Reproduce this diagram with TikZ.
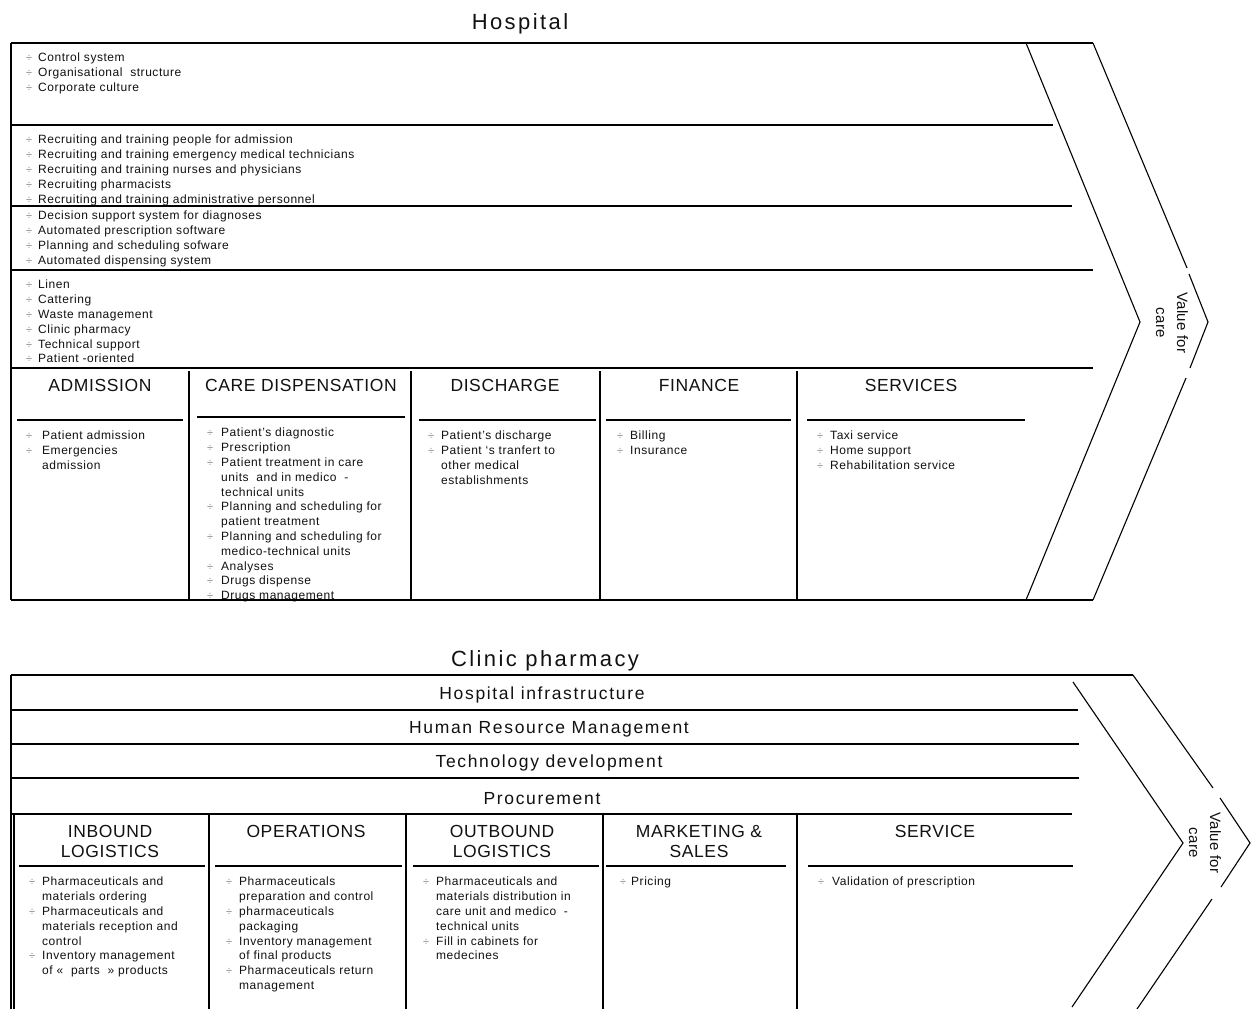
\documentclass[tikz,border=0pt]{standalone}
\usepackage{fontspec}
\setmainfont{Liberation Sans}
\newfontfamily\bodyf[LetterSpace=4.5]{Liberation Sans}
\newfontfamily\headf[LetterSpace=3.5]{Liberation Sans}
\newfontfamily\barf[LetterSpace=9.5]{Liberation Sans}
\newfontfamily\titlef[LetterSpace=11]{Liberation Sans}
\newfontfamily\valf[LetterSpace=2]{Liberation Sans}
\definecolor{txt}{HTML}{111111}
\definecolor{bulc}{HTML}{808080}
\newcommand\blt[1]{\makebox[#1pt][l]{\textcolor{bulc}{\fontsize{11}{11}\selectfont ÷}}}
\newcommand\cnt[1]{\hspace*{#1pt}}
\tikzset{
  lst/.style={anchor=north west, inner sep=0pt, align=left, text=txt,
              font=\bodyf\fontsize{12}{14.8}\selectfont},
  hdr/.style={anchor=base, inner sep=0pt, text=txt, font=\headf\fontsize{17.5}{20}\selectfont},
  hdrtwo/.style={anchor=center, inner sep=0pt, align=center, text=txt, font=\headf\fontsize{17.5}{20}\selectfont},
  barlbl/.style={anchor=base, inner sep=0pt, text=txt, font=\barf\fontsize{17.5}{20}\selectfont},
  ttl/.style={anchor=base, inner sep=0pt, text=txt, font=\titlef\fontsize{22}{26}\selectfont},
  vlbl/.style={rotate=-90, align=center, inner sep=0pt, text=txt, font=\valf\fontsize{15}{21}\selectfont},
  rule/.style={line width=1.1pt, draw=black},
}
\begin{document}
\begin{tikzpicture}[x=1pt,y=-1pt]
\useasboundingbox[fill=white] (0,0) rectangle (1254,1009);

% ================= HOSPITAL =================
\node[ttl] (htitle) at (520,29) {Hospital};

\node[lst] (infra) at (26,53) {\blt{12}Control system\\ \blt{12}Organisational~ structure\\ \blt{12}Corporate culture};
\node[lst] (hrm) at (26,135) {\blt{12}Recruiting and training people for admission\\
  \blt{12}Recruiting and training emergency medical technicians\\
  \blt{12}Recruiting and training nurses and physicians\\
  \blt{12}Recruiting pharmacists\\
  \blt{12}Recruiting and training administrative personnel};
\node[lst] (tech) at (26,211) {\blt{12}Decision support system for diagnoses\\
  \blt{12}Automated prescription software\\
  \blt{12}Planning and scheduling sofware\\
  \blt{12}Automated dispensing system};
\node[lst] (proc) at (26,280) {\blt{12}Linen\\ \blt{12}Cattering\\ \blt{12}Waste management\\
  \blt{12}Clinic pharmacy\\ \blt{12}Technical support\\ \blt{12}Patient -oriented};

\node[hdr] (hadm) at (100,391) {ADMISSION};
\node[hdr] (hcare) at (301,391) {CARE DISPENSATION};
\node[hdr] (hdis) at (505,391) {DISCHARGE};
\node[hdr] (hfin) at (699,391) {FINANCE};
\node[hdr] (hsrv) at (911,391) {SERVICES};

\node[lst] (ladm) at (26,431) {\blt{16}Patient admission\\ \blt{16}Emergencies\\ \cnt{16}admission};
\node[lst] (lcare) at (207,428) {\blt{14}Patient’s diagnostic\\ \blt{14}Prescription\\
  \blt{14}Patient treatment in care\\ \cnt{14}units~ and in medico~ -\\ \cnt{14}technical units\\
  \blt{14}Planning and scheduling for\\ \cnt{14}patient treatment\\
  \blt{14}Planning and scheduling for\\ \cnt{14}medico-technical units\\
  \blt{14}Analyses\\ \blt{14}Drugs dispense\\ \blt{14}Drugs management};
\node[lst] (ldis) at (428,431) {\blt{13}Patient’s discharge\\ \blt{13}Patient ‘s tranfert to\\
  \cnt{13}other medical\\ \cnt{13}establishments};
\node[lst] (lfin) at (617,431) {\blt{13}Billing\\ \blt{13}Insurance};
\node[lst] (lsrv) at (817,431) {\blt{13}Taxi service\\ \blt{13}Home support\\ \blt{13}Rehabilitation service};

\draw[rule] (11,43) -- (1093,43);
\draw[rule] (11,43) -- (11,600);
\draw[rule] (11,125) -- (1053,125);
\draw[rule] (11,206) -- (1072,206);
\draw[rule] (11,270) -- (1093,270);
\draw[rule] (11,368) -- (1093,368);
\draw[rule] (11,600) -- (1093,600);
\foreach \xx in {189,411,600,797} \draw[rule] (\xx,371) -- (\xx,600);
\draw[rule] (17,420) -- (183,420);
\draw[rule] (197,417) -- (405,417);
\draw[rule] (419,420) -- (596,420);
\draw[rule] (606,420) -- (791,420);
\draw[rule] (807,420) -- (1025,420);
% chevron
\draw[rule] (1026,43) -- (1140,322) -- (1026,600);
\draw[rule] (1093,43) -- (1187,268);
\draw[rule] (1189,274) -- (1208,322) -- (1190,368);
\draw[rule] (1186,378) -- (1093,600);
\node[vlbl] (hval) at (1172,323) {Value for\\care};

% ================= CLINIC PHARMACY =================
\node[ttl] (ctitle) at (545,666) {Clinic pharmacy};
\node[barlbl] (binf) at (542,699) {Hospital infrastructure};
\node[barlbl] (bhrm) at (549,733) {Human Resource Management};
\node[barlbl] (btec) at (549,767) {Technology development};
\node[barlbl] (bpro) at (542,804) {Procurement};

\node[hdrtwo] (cinb) at (110,841) {INBOUND\\LOGISTICS};
\node[hdr] (cops) at (306,837.5) {OPERATIONS};
\node[hdrtwo] (cout) at (502,841) {OUTBOUND\\LOGISTICS};
\node[hdrtwo] (cmkt) at (699,841) {MARKETING \&\\SALES};
\node[hdr] (csvc) at (935,837.5) {SERVICE};

\node[lst] (linb) at (29,877) {\blt{13}Pharmaceuticals and\\ \cnt{13}materials ordering\\
  \blt{13}Pharmaceuticals and\\ \cnt{13}materials reception and\\ \cnt{13}control\\
  \blt{13}Inventory management\\ \cnt{13}of «~ parts~ » products};
\node[lst] (lops) at (226,877) {\blt{13}Pharmaceuticals\\ \cnt{13}preparation and control\\
  \blt{13}pharmaceuticals\\ \cnt{13}packaging\\ \blt{13}Inventory management\\
  \cnt{13}of final products\\ \blt{13}Pharmaceuticals return\\ \cnt{13}management};
\node[lst] (lout) at (423,877) {\blt{13}Pharmaceuticals and\\ \cnt{13}materials distribution in\\
  \cnt{13}care unit and medico~ -\\ \cnt{13}technical units\\ \blt{13}Fill in cabinets for\\ \cnt{13}medecines};
\node[lst] (lmkt) at (620,877) {\blt{11}Pricing};
\node[lst] (lsvc) at (818,877) {\blt{14}Validation of prescription};

\draw[rule] (11,675) -- (1133,675);
\draw[rule] (11,675) -- (11,1009);
\draw[rule] (14,814) -- (14,1009);
\draw[rule] (11,710) -- (1078,710);
\draw[rule] (11,744) -- (1079,744);
\draw[rule] (11,778) -- (1079,778);
\draw[rule] (11,814) -- (1072,814);
\foreach \xx in {209,406,603,797} \draw[rule] (\xx,814) -- (\xx,1009);
\draw[rule] (19,866) -- (205,866);
\draw[rule] (215,866) -- (402,866);
\draw[rule] (413,866) -- (599,866);
\draw[rule] (606,866) -- (786,866);
\draw[rule] (808,866) -- (1073,866);
% chevron
\draw[rule] (1073,682) -- (1183,843) -- (1072,1007);
\draw[rule] (1133,675) -- (1213,788);
\draw[rule] (1220,798) -- (1250,843) -- (1221,887);
\draw[rule] (1212,899) -- (1135,1012);
\node[vlbl] (cval) at (1205,843) {Value for\\care};
\end{tikzpicture}
\end{document}
